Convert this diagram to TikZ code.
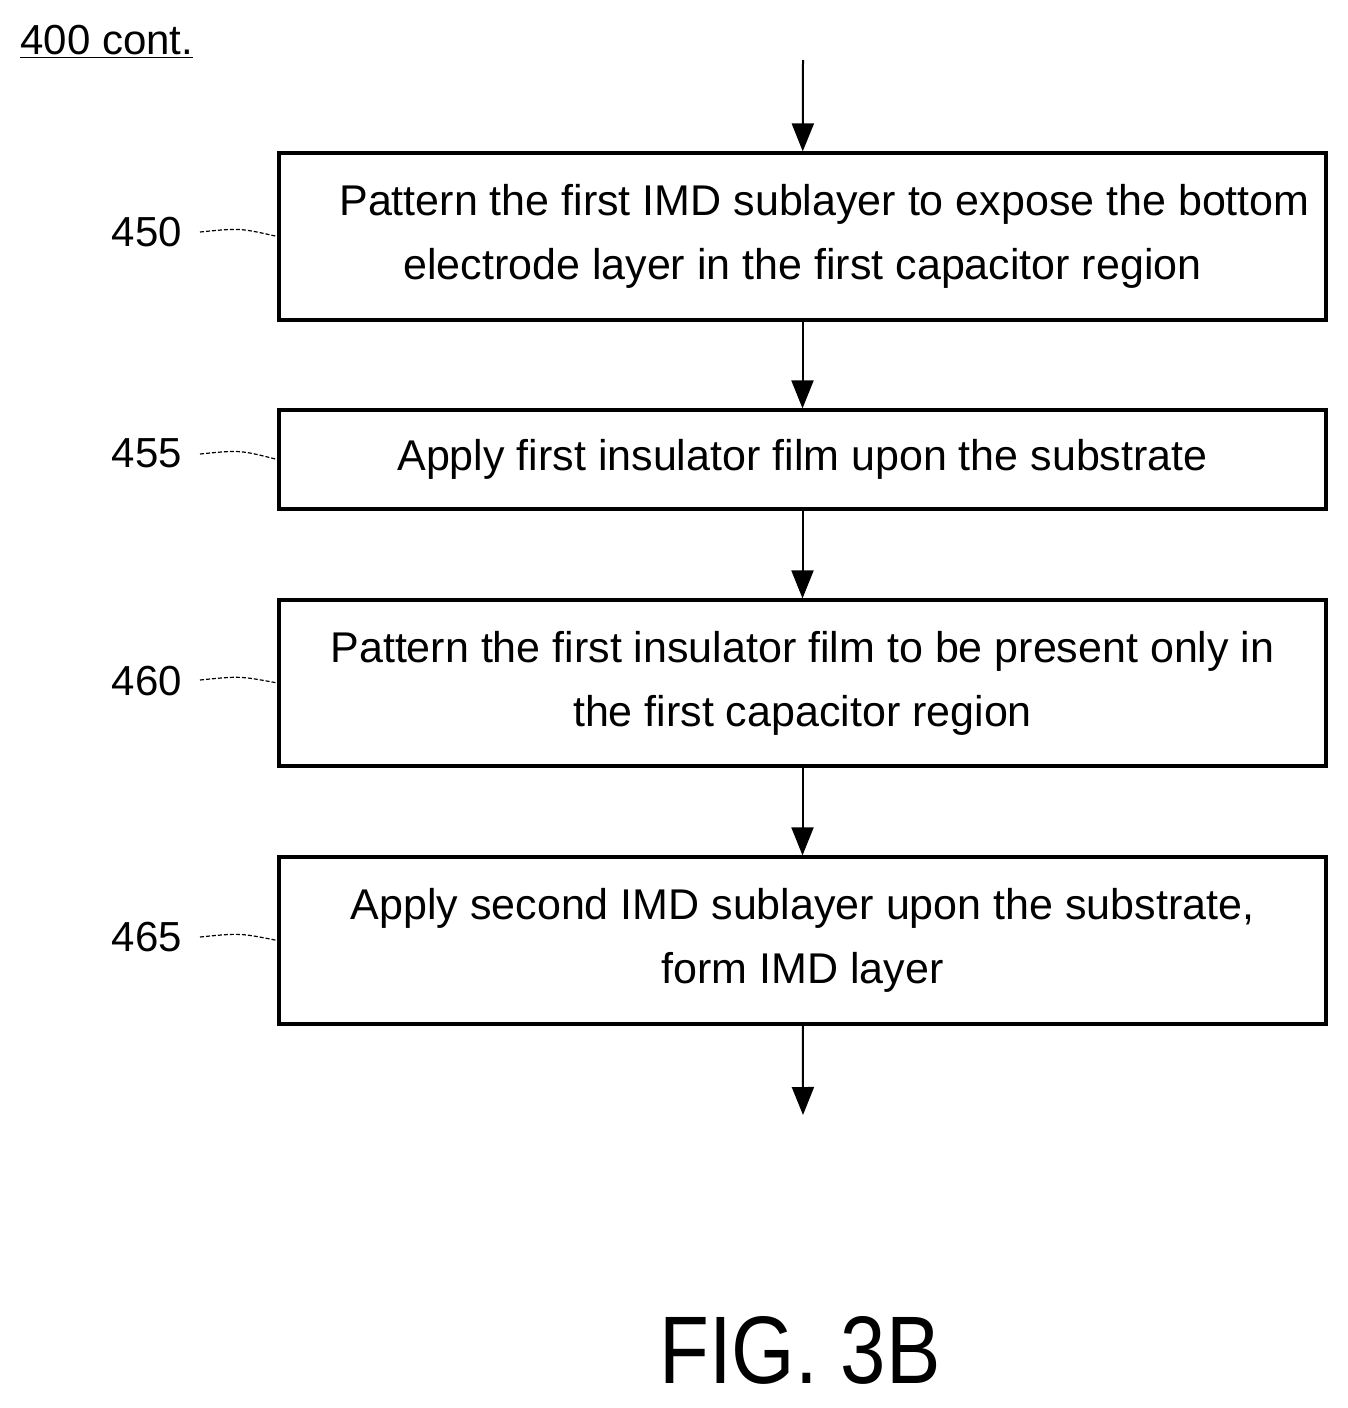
\documentclass[tikz,border=0pt]{standalone}
\usepackage{fontspec}
\setmainfont{Liberation Sans}
\usetikzlibrary{arrows.meta}
\begin{document}
\begin{tikzpicture}[x=0.5pt,y=-0.5pt,
  box/.style={draw,line width=1.6pt,minimum width=523.5pt,align=center,font=\fontsize{21.5}{32}\selectfont,inner sep=0pt},
  arr/.style={line width=1pt,-{Triangle[length=14pt,width=11pt]}},
  lbl/.style={font=\fontsize{21}{24}\selectfont},
  lead/.style={line width=0.6pt,dash pattern=on 2pt off 1pt}]
\useasboundingbox (0,0) rectangle (1348,1408);
\node[anchor=west,font=\fontsize{21}{24}\selectfont,inner sep=0pt] (title) at (20,42) {\underline{400 cont.}};
\node[box,minimum height=83.5pt] (b1) at (802.5,236.5) {\hspace*{22pt}Pattern the first IMD sublayer to expose the bottom\\electrode layer in the first capacitor region};
\node[box,minimum height=49.5pt] (b2) at (802.5,459.5) {Apply first insulator film upon the substrate};
\node[box,minimum height=83pt] (b3) at (802.5,683) {Pattern the first insulator film to be present only in\\the first capacitor region};
\node[box,minimum height=83.5pt] (b4) at (802.5,940.5) {Apply second IMD sublayer upon the substrate,\\form IMD layer};
\coordinate (top) at (803,60);
\coordinate (bot) at (803,1115);
\draw[arr] (top) -- (b1);
\draw[arr] (b1) -- (b2);
\draw[arr] (b2) -- (b3);
\draw[arr] (b3) -- (b4);
\draw[arr] (b4) -- (bot);
\node[lbl] (l1) at (147,232) {450};
\node[lbl] (l2) at (147,453) {455};
\node[lbl] (l3) at (147,681) {460};
\node[lbl] (l4) at (147,937) {465};
\draw[lead] (200,232) .. controls (240,228) .. (b1.west);
\draw[lead] (200,454) .. controls (240,450) .. (b2.west);
\draw[lead] (200,680) .. controls (240,676) .. (b3.west);
\draw[lead] (200,937) .. controls (240,933) .. (b4.west);
\node[font=\fontsize{48}{50}\selectfont] (fig) at (800,1350) {\scalebox{0.85}[1]{FIG. 3B}};
\end{tikzpicture}
\end{document}
